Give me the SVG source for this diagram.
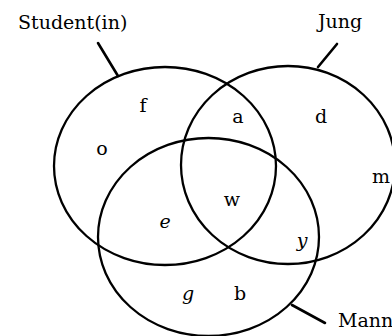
<svg xmlns="http://www.w3.org/2000/svg" width="392" height="336" viewBox="0 0 392 336">
<style>
.set{fill:none;stroke:#000;stroke-width:2.3}
.ptr{stroke:#000;stroke-width:2.6;stroke-linecap:round}
text{font-family:"DejaVu Serif","Liberation Serif",serif;font-size:19px;fill:#000}
.lbl{text-anchor:middle}
.it{font-style:italic}
</style>
<rect width="392" height="336" fill="#fff"/>
<g id="student">
<ellipse class="set" cx="165" cy="166" rx="111" ry="99"/>
<text x="18" y="29">Student(in)</text>
</g>
<g id="jung">
<ellipse class="set" cx="288" cy="165" rx="107" ry="99"/>
<text x="318" y="28">Jung</text>
</g>
<g id="mann">
<ellipse class="set" cx="208.5" cy="237" rx="110.5" ry="99"/>
<text x="338" y="327">Mann</text>
</g>
<g id="connectors">
<line class="ptr" x1="98" y1="43" x2="118" y2="76"/>
<line class="ptr" x1="337" y1="44" x2="318" y2="67"/>
<line class="ptr" x1="292" y1="305" x2="325" y2="323"/>
</g>
<g id="elements">
<text class="lbl" x="143" y="112">f</text>
<text class="lbl" x="102" y="155">o</text>
<text class="lbl" x="238" y="123">a</text>
<text class="lbl" x="321" y="123">d</text>
<text x="372" y="183">m</text>
<text class="lbl" x="232" y="206">w</text>
<text class="lbl it" x="165" y="228">e</text>
<text class="lbl it" x="302" y="247">y</text>
<text class="lbl it" x="188" y="300">g</text>
<text class="lbl" x="240" y="300">b</text>
</g>
</svg>
